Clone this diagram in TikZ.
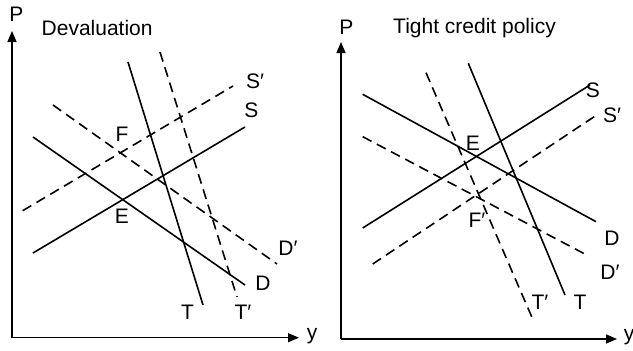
\documentclass[tikz,border=0pt]{standalone}
\usepackage{fontspec}
\setmainfont{Liberation Sans}
\usetikzlibrary{arrows.meta}
\begin{document}
\begin{tikzpicture}[x=1pt,y=-1pt,
  curve/.style={line width=1.6pt},
  dcurve/.style={line width=1.6pt,dash pattern=on 10pt off 6pt},
  axis/.style={line width=1.4pt,-{Triangle[length=11pt,width=9pt]}},
  lbl/.style={font=\fontsize{21}{24}\selectfont,inner sep=0pt},
  ttl/.style={font=\fontsize{21}{24}\selectfont,inner sep=0pt,anchor=west}]
\useasboundingbox (0,0) rectangle (633,351);
% ---------- left panel ----------
\coordinate (LO) at (12,337.7);
\coordinate (LP) at (12,31);
\coordinate (LY) at (299,337.7);
\draw[axis] (LO) -- (LP);
\draw[axis] (LO) -- (LY);
\node[lbl] (lP) at (16.5,14) {P};
\node[lbl] (ly) at (312,336) {y};
\node[ttl] (ltitle) at (41.5,27.5) {Devaluation};
\coordinate (lS1a) at (22.7,210.7); \coordinate (lS1b) at (233,86);
\coordinate (lSa) at (33,253); \coordinate (lSb) at (245,127);
\coordinate (lD1a) at (53,105); \coordinate (lD1b) at (277,264);
\coordinate (lDa) at (33,137); \coordinate (lDb) at (245,285);
\coordinate (lTa) at (128,62); \coordinate (lTb) at (203,305);
\coordinate (lT1a) at (160,52); \coordinate (lT1b) at (237,297);
\draw[dcurve] (lS1a) -- (lS1b);
\draw[curve] (lSa) -- (lSb);
\draw[dcurve] (lD1a) -- (lD1b);
\draw[curve] (lDa) -- (lDb);
\draw[curve] (lTa) -- (lTb);
\draw[dcurve] (lT1a) -- (lT1b);
\node[lbl] (lS1) at (255,81) {S′};
\node[lbl] (lS) at (251.5,110) {S};
\node[lbl] (lD1) at (288,248) {D′};
\node[lbl] (lD) at (263,283) {D};
\node[lbl] (lT) at (187.5,312) {T};
\node[lbl] (lT1) at (243,312) {T′};
\node[lbl] (lF) at (122,134) {F};
\node[lbl] (lE) at (122,216) {E};
% ---------- right panel ----------
\coordinate (RO) at (341,339);
\coordinate (RP) at (341,42);
\coordinate (RY) at (617,339);
\draw[axis] (RO) -- (RP);
\draw[axis] (RO) -- (RY);
\node[lbl] (rP) at (346.5,27) {P};
\node[lbl] (ry) at (629,337) {y};
\node[ttl] (rtitle) at (393,28) {Tight credit policy};
\coordinate (rSa) at (362.7,228); \coordinate (rSb) at (590,85);
\coordinate (rS1a) at (372.7,264); \coordinate (rS1b) at (596.7,115);
\coordinate (rDa) at (362.7,94.3); \coordinate (rDb) at (596,221.7);
\coordinate (rD1a) at (362.7,136.7); \coordinate (rD1b) at (586.7,255);
\coordinate (rTa) at (468.3,63.3); \coordinate (rTb) at (565,295);
\coordinate (rT1a) at (426,72.7); \coordinate (rT1b) at (531.7,316.7);
\draw[curve] (rSa) -- (rSb);
\draw[dcurve] (rS1a) -- (rS1b);
\draw[curve] (rDa) -- (rDb);
\draw[dcurve] (rD1a) -- (rD1b);
\draw[curve] (rTa) -- (rTb);
\draw[dcurve] (rT1a) -- (rT1b);
\node[lbl] (rS) at (593,90) {S};
\node[lbl] (rS1) at (612,115) {S′};
\node[lbl] (rD) at (612,238) {D};
\node[lbl] (rD1) at (610,272) {D′};
\node[lbl] (rT) at (580,302) {T};
\node[lbl] (rT1) at (540,302) {T′};
\node[lbl] (rE) at (473,143) {E};
\node[lbl] (rF1) at (477,220) {F′};
\end{tikzpicture}
\end{document}
